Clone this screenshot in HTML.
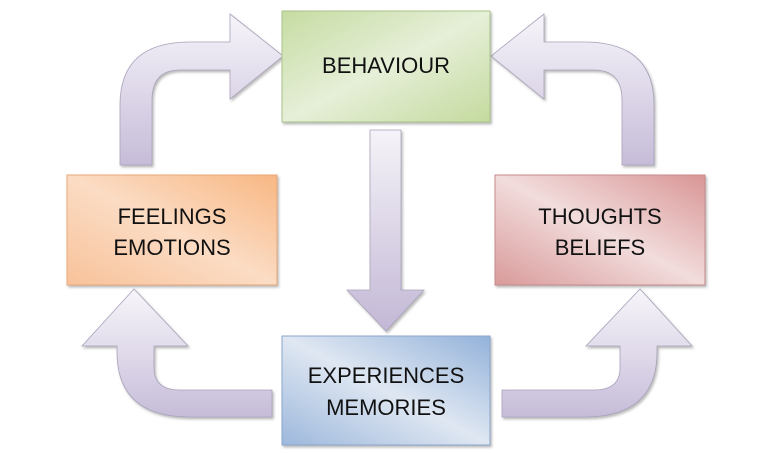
<!DOCTYPE html>
<html><head><style>
html,body{margin:0;padding:0;background:#fff;width:768px;height:453px;overflow:hidden}
svg{display:block}
text{font-family:"Liberation Sans",sans-serif;font-size:22px;fill:#111;text-anchor:middle}
</style></head><body>
<svg width="768" height="453" viewBox="0 0 768 453">
<defs>
<linearGradient id="av" x1="0" y1="0" x2="0" y2="1"><stop offset="0" stop-color="#f7f5fa"/><stop offset="1" stop-color="#c6bcd9"/></linearGradient>
<linearGradient id="avb" x1="0" y1="0" x2="0" y2="1"><stop offset="0" stop-color="#f7f5fa"/><stop offset="0.5" stop-color="#e0daea"/><stop offset="1" stop-color="#c6bcd9"/></linearGradient>
<linearGradient id="ad" x1="0" y1="0" x2="0" y2="1"><stop offset="0" stop-color="#f5f3f8"/><stop offset="1" stop-color="#c3b8d6"/></linearGradient>
<linearGradient id="g" x1="0" y1="0" x2="1" y2="1"><stop offset="0" stop-color="#c6dca2"/><stop offset="0.5" stop-color="#e6efd8"/><stop offset="1" stop-color="#c4da9e"/></linearGradient>
<linearGradient id="o" x1="1" y1="0" x2="0" y2="1"><stop offset="0" stop-color="#f8b783"/><stop offset="0.5" stop-color="#fbdcc4"/><stop offset="1" stop-color="#f8c29a"/></linearGradient>
<linearGradient id="r" x1="1" y1="0" x2="0" y2="1"><stop offset="0" stop-color="#d99595"/><stop offset="0.5" stop-color="#f2dcdc"/><stop offset="1" stop-color="#d99a9a"/></linearGradient>
<linearGradient id="b" x1="1" y1="0" x2="0" y2="1"><stop offset="0" stop-color="#93b2da"/><stop offset="0.5" stop-color="#dfe7f2"/><stop offset="1" stop-color="#9db8dc"/></linearGradient>
<filter id="sh"><feDropShadow dx="1.5" dy="2" stdDeviation="1.2" flood-color="#777" flood-opacity="0.5"/></filter>
</defs>
<g filter="url(#sh)" stroke="#aaa3bb" stroke-width="0.8">
<path d="M120,165 L120,105 Q120,42 190,42 L230,42 L230,14 L283,56 L230,99 L230,70 L180,70 Q152,70 152,100 L152,165 Z" fill="url(#av)"/>
<path transform="translate(774,0) scale(-1,1)" d="M120,165 L120,105 Q120,42 190,42 L230,42 L230,14 L283,56 L230,99 L230,70 L180,70 Q152,70 152,100 L152,165 Z" fill="url(#av)"/>
<path d="M117,346 L82,346 L134,289 L188,346 L154,346 L154,368 Q154,390 180,390 L272,390 L272,417 L190,417 Q117,417 117,352 Z" fill="url(#avb)"/>
<path transform="translate(774,0) scale(-1,1)" d="M117,346 L82,346 L134,289 L188,346 L154,346 L154,368 Q154,390 180,390 L272,390 L272,417 L190,417 Q117,417 117,352 Z" fill="url(#avb)"/>
<path d="M370,130 L401,130 L401,290 L424,290 L386,331 L347,290 L370,290 Z" fill="url(#ad)"/>
</g>
<g filter="url(#sh)">
<rect x="282" y="11" width="208" height="111" fill="url(#g)" stroke="#a9c38a" stroke-width="1"/>
<rect x="67" y="175" width="210" height="110" fill="url(#o)" stroke="#e8a878" stroke-width="1"/>
<rect x="495" y="175" width="210" height="110" fill="url(#r)" stroke="#c88a8a" stroke-width="1"/>
<rect x="282" y="336" width="208" height="109" fill="url(#b)" stroke="#8aa6cc" stroke-width="1"/>
</g>
<text x="386" y="73">BEHAVIOUR</text>
<text x="172" y="224">FEELINGS</text>
<text x="172" y="255">EMOTIONS</text>
<text x="600" y="224">THOUGHTS</text>
<text x="600" y="255">BELIEFS</text>
<text x="386" y="383">EXPERIENCES</text>
<text x="386" y="415">MEMORIES</text>
</svg>
</body></html>
